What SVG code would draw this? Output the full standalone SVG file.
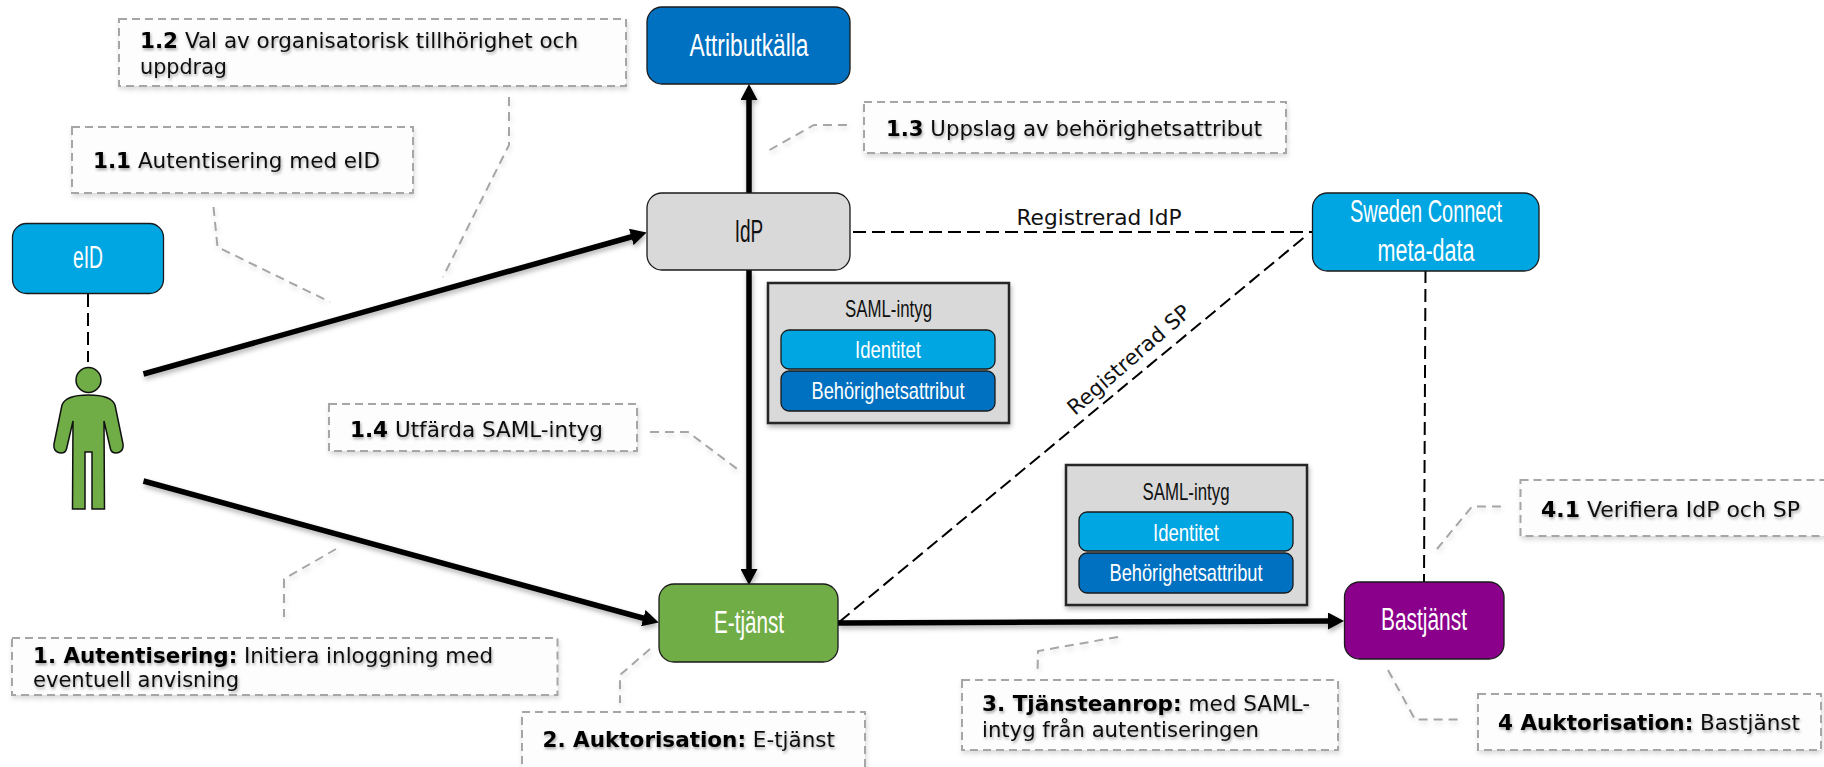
<svg xmlns="http://www.w3.org/2000/svg" width="1824" height="767" viewBox="0 0 1824 767">
<style>
.n{stroke:#1a1a1a;stroke-width:1.3}
.nt{font-family:"Liberation Sans Narrow","Liberation Sans",sans-serif;font-size:31px;text-anchor:middle;fill:#fff}
.st{font-family:"Liberation Sans Narrow","Liberation Sans",sans-serif;font-size:24px;text-anchor:middle;fill:#fff}
.dk{fill:#111}
.cb{fill:#fdfdfd;stroke:#a6a6a6;stroke-width:2;stroke-dasharray:8 5;filter:url(#faint)}
.ct{font-family:"DejaVu Sans",Verdana,sans-serif;font-size:21px;fill:#111;filter:url(#ts)}
.ct tspan{font-weight:bold;fill:#000}
.lead{fill:none;stroke:#a6a6a6;stroke-width:2;stroke-dasharray:9 6;filter:url(#faint)}
.thick{fill:none;stroke:#000;stroke-width:5.5;marker-end:url(#ah);filter:url(#soft)}
.dash{fill:none;stroke:#000;stroke-width:2;stroke-dasharray:13 6}
.lbl{font-family:"DejaVu Sans",Verdana,sans-serif;font-size:21px;fill:#111}
.saml{fill:#d9d9d9;stroke:#262626;stroke-width:2.5;filter:url(#soft)}
</style>
<defs>
<filter id="soft" filterUnits="userSpaceOnUse" x="0" y="0" width="1824" height="767"><feDropShadow dx="1" dy="3" stdDeviation="2.5" flood-color="#000" flood-opacity=".3"/></filter>
<filter id="faint" filterUnits="userSpaceOnUse" x="0" y="0" width="1824" height="767"><feDropShadow dx="1" dy="3" stdDeviation="2.5" flood-color="#000" flood-opacity=".15"/></filter>
<filter id="ts" filterUnits="userSpaceOnUse" x="0" y="0" width="1824" height="767"><feDropShadow dx="1" dy="2" stdDeviation="1.5" flood-color="#000" flood-opacity=".35"/></filter>
<marker id="ah" markerUnits="userSpaceOnUse" markerWidth="16" markerHeight="17" viewBox="0 0 16 17" refX="7" refY="8.5" orient="auto"><path d="M0 0L16 8.5L0 17Z" fill="#000"/></marker>
</defs>
<rect width="1824" height="767" fill="#fff"/>

<g id="connectors">
<path class="thick" d="M143.5 374L638 235"/>
<path class="thick" d="M143.5 481L650 620"/>
<path class="thick" d="M749 193V93"/>
<path class="thick" d="M749 270V576"/>
<path class="thick" d="M838 623L1335 621"/>
<path class="dash" d="M88 294V362"/>
<path class="dash" d="M853 232H1313"/>
<path class="dash" d="M839.5 621.7L1307 235"/>
<path class="dash" d="M1425.5 270L1424 582"/>
<text class="lbl" x="1016.5" y="225" textLength="165" lengthAdjust="spacingAndGlyphs">Registrerad IdP</text>
<text class="lbl" transform="translate(1075 416) rotate(-41)" textLength="155" lengthAdjust="spacingAndGlyphs">Registrerad SP</text>
<path class="lead" d="M213.5 207L217.5 247L330 302"/>
<path class="lead" d="M509 97V145L443 277"/>
<path class="lead" d="M769.5 150L814 125H853"/>
<path class="lead" d="M650 432H688L738.6 470"/>
<path class="lead" d="M336 549L284 579V617"/>
<path class="lead" d="M650 649L620 675V703"/>
<path class="lead" d="M1118 637L1038 651L1037.5 673"/>
<path class="lead" d="M1437 549L1472 506.5H1505"/>
<path class="lead" d="M1388 670L1415 719.5H1460.5"/>
</g>

<g id="eid"><rect class="n" x="12.5" y="223.5" width="151" height="70" rx="14" fill="#00a6e2"/><text class="nt" x="88" y="268" textLength="30" lengthAdjust="spacingAndGlyphs">eID</text></g>
<g id="user">
<circle cx="88.5" cy="380" r="12.5" fill="#70ad47" stroke="#111" stroke-width="1.5"/>
<path d="M88.5 395C100 395 112 397 115 405L123 444C124 451 119 453 116 453C113 453 111 451 110.5 449L104 421L104.5 509H92V452H85V509H72.5L73 421L66.5 449C66 451 64 453 61 453C58 453 53 451 54 444L62 405C65 397 77 395 88.5 395Z" fill="#70ad47" stroke="#111" stroke-width="1.5"/>
</g>
<g id="attributkalla"><rect class="n" x="647" y="7" width="203" height="77" rx="15" fill="#0070c0"/><text class="nt" x="749" y="56" textLength="119" lengthAdjust="spacingAndGlyphs">Attributkälla</text></g>
<g id="idp"><rect class="n" x="647" y="193" width="203" height="77" rx="15" fill="#d9d9d9"/><text class="nt dk" x="749" y="242" textLength="28.5" lengthAdjust="spacingAndGlyphs">IdP</text></g>
<g id="sweden-connect"><rect class="n" x="1312.5" y="193" width="226.5" height="78" rx="15" fill="#00a6e2"/><text class="nt" x="1426" y="222" textLength="152" lengthAdjust="spacingAndGlyphs">Sweden Connect</text><text class="nt" x="1426" y="261" textLength="97" lengthAdjust="spacingAndGlyphs">meta-data</text></g>
<g id="etjanst"><rect class="n" x="659" y="584" width="179" height="78" rx="15" fill="#70ad47"/><text class="nt" x="749" y="633" textLength="70" lengthAdjust="spacingAndGlyphs">E-tjänst</text></g>
<g id="bastjanst"><rect class="n" x="1344.5" y="582" width="159.5" height="77" rx="15" fill="#8b008b"/><text class="nt" x="1424" y="630" textLength="86" lengthAdjust="spacingAndGlyphs">Bastjänst</text></g>

<g id="saml1"><rect class="saml" x="768" y="283" width="241" height="140"/>
<text class="st dk" x="888.5" y="317" textLength="87" lengthAdjust="spacingAndGlyphs">SAML-intyg</text>
<rect class="n" x="781" y="330" width="214" height="39" rx="8" fill="#00a6e2"/><text class="st" x="888" y="358" textLength="66" lengthAdjust="spacingAndGlyphs">Identitet</text>
<rect class="n" x="781" y="371" width="214" height="40" rx="8" fill="#0070c0"/><text class="st" x="888" y="399" textLength="153" lengthAdjust="spacingAndGlyphs">Behörighetsattribut</text></g>
<g id="saml2"><rect class="saml" x="1066" y="465" width="241" height="140"/>
<text class="st dk" x="1186" y="500" textLength="87" lengthAdjust="spacingAndGlyphs">SAML-intyg</text>
<rect class="n" x="1079" y="512" width="214" height="39" rx="8" fill="#00a6e2"/><text class="st" x="1186" y="541" textLength="66" lengthAdjust="spacingAndGlyphs">Identitet</text>
<rect class="n" x="1079" y="553" width="214" height="40" rx="8" fill="#0070c0"/><text class="st" x="1186" y="581" textLength="153" lengthAdjust="spacingAndGlyphs">Behörighetsattribut</text></g>

<g id="c12"><rect class="cb" x="119" y="19" width="507" height="67"/><text class="ct" x="140" y="48" textLength="438" lengthAdjust="spacingAndGlyphs"><tspan>1.2</tspan> Val av organisatorisk tillhörighet och</text><text class="ct" x="140" y="74" textLength="87" lengthAdjust="spacingAndGlyphs">uppdrag</text></g>
<g id="c11"><rect class="cb" x="72" y="127" width="341" height="66"/><text class="ct" x="93" y="168" textLength="287" lengthAdjust="spacingAndGlyphs"><tspan>1.1</tspan> Autentisering med eID</text></g>
<g id="c13"><rect class="cb" x="864" y="102" width="422" height="51"/><text class="ct" x="886" y="136" textLength="376" lengthAdjust="spacingAndGlyphs"><tspan>1.3</tspan> Uppslag av behörighetsattribut</text></g>
<g id="c14"><rect class="cb" x="329" y="404" width="308" height="47"/><text class="ct" x="350" y="437" textLength="253" lengthAdjust="spacingAndGlyphs"><tspan>1.4</tspan> Utfärda SAML-intyg</text></g>
<g id="c1"><rect class="cb" x="12" y="638" width="545.5" height="57"/><text class="ct" x="33" y="663" textLength="460" lengthAdjust="spacingAndGlyphs"><tspan>1. Autentisering:</tspan> Initiera inloggning med</text><text class="ct" x="33" y="687" textLength="206" lengthAdjust="spacingAndGlyphs">eventuell anvisning</text></g>
<g id="c2"><rect class="cb" x="522" y="712" width="343" height="60"/><text class="ct" x="542.5" y="747" textLength="292.5" lengthAdjust="spacingAndGlyphs"><tspan>2. Auktorisation:</tspan> E-tjänst</text></g>
<g id="c3"><rect class="cb" x="962" y="680" width="376" height="70"/><text class="ct" x="982" y="711" textLength="328" lengthAdjust="spacingAndGlyphs"><tspan>3. Tjänsteanrop:</tspan> med SAML-</text><text class="ct" x="982" y="737" textLength="277" lengthAdjust="spacingAndGlyphs">intyg från autentiseringen</text></g>
<g id="c41"><rect class="cb" x="1520.5" y="480" width="310" height="56"/><text class="ct" x="1541" y="517" textLength="259" lengthAdjust="spacingAndGlyphs"><tspan>4.1</tspan> Verifiera IdP och SP</text></g>
<g id="c4"><rect class="cb" x="1478" y="694" width="343" height="56"/><text class="ct" x="1498" y="730" textLength="302" lengthAdjust="spacingAndGlyphs"><tspan>4 Auktorisation:</tspan> Bastjänst</text></g>
</svg>
